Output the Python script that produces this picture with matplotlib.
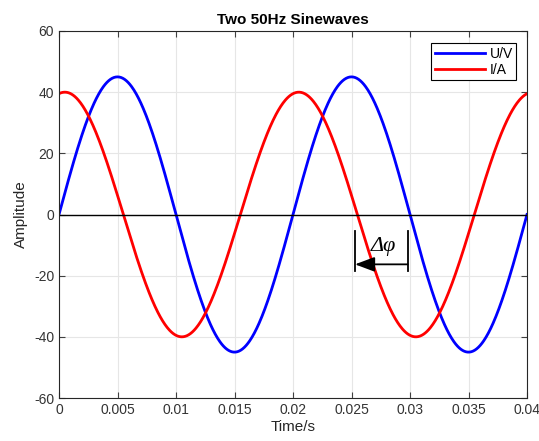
import numpy as np
import matplotlib.pyplot as plt

plt.rcParams['font.family'] = ['Liberation Sans', 'DejaVu Sans']
plt.rcParams['axes.unicode_minus'] = False

# values
freq = 50.0                      # Hz
u_amp = 45.0                     # U/V peak
i_amp = 40.0                     # I/A peak
i_lag = 0.0005                   # s, red peak sits a little after 0
labels = ['U/V', 'I/A']
x_ticks = [0, 0.005, 0.01, 0.015, 0.02, 0.025, 0.03, 0.035, 0.04]
y_ticks = [-60, -40, -20, 0, 20, 40, 60]
dphi_t = [0.0253, 0.0298]        # ends of the delta-phi marker

t = np.linspace(0, 0.04, 801)
u = u_amp * np.sin(2 * np.pi * freq * t)
i = i_amp * np.cos(2 * np.pi * freq * (t - i_lag))

fig = plt.figure(figsize=(5.39, 4.41), dpi=100)
ax = fig.add_axes([59/539, 1 - 398/441, 468/539, 367/441])

ax.plot(t, u, color='#0000ff', lw=2, label=labels[0])
ax.plot(t, i, color='#ff0000', lw=2, label=labels[1])
ax.axhline(0, color='black', lw=1)

# delta phi marker
for x in dphi_t:
    ax.plot([x, x], [-5.5, -18.5], color='black', lw=1.3)
ax.annotate('', xy=(dphi_t[0], -16.3), xytext=(dphi_t[1], -16.3),
            arrowprops=dict(arrowstyle='-|>,head_length=1.2,head_width=0.45',
                            color='black', lw=1.3, shrinkA=0, shrinkB=0))
ax.text(0.0277, -10.5, 'Δφ', fontsize=16, ha='center', va='center',
        family='Liberation Serif', style='italic')

ax.set_xlim(0, 0.04)
ax.set_ylim(-60, 60)
ax.set_xticks(x_ticks)
ax.set_xticklabels(['0', '0.005', '0.01', '0.015', '0.02', '0.025', '0.03', '0.035', '0.04'])
ax.set_yticks(y_ticks)
ax.grid(True, color='#e6e6e6', lw=0.8)
ax.set_axisbelow(True)
ax.tick_params(direction='in', top=True, right=True, labelsize=10,
               colors='#404040', labelcolor='#333333', length=4)
for s in ax.spines.values():
    s.set_color('#262626')
    s.set_linewidth(0.8)

ax.set_title('Two 50Hz Sinewaves', fontsize=11, fontweight='bold', pad=5)
ax.set_xlabel('Time/s', fontsize=11, color='#262626', labelpad=2)
ax.set_ylabel('Amplitude', fontsize=11, color='#262626', labelpad=4)

leg = ax.legend(loc='upper right', fancybox=False, edgecolor='black', framealpha=1,
                fontsize=10, handlelength=3.6, borderpad=0.25, labelspacing=0.15,
                handletextpad=0.35, bbox_to_anchor=(0.992, 0.985))
leg.get_frame().set_linewidth(0.8)

fig.savefig('out.png', dpi=100)
